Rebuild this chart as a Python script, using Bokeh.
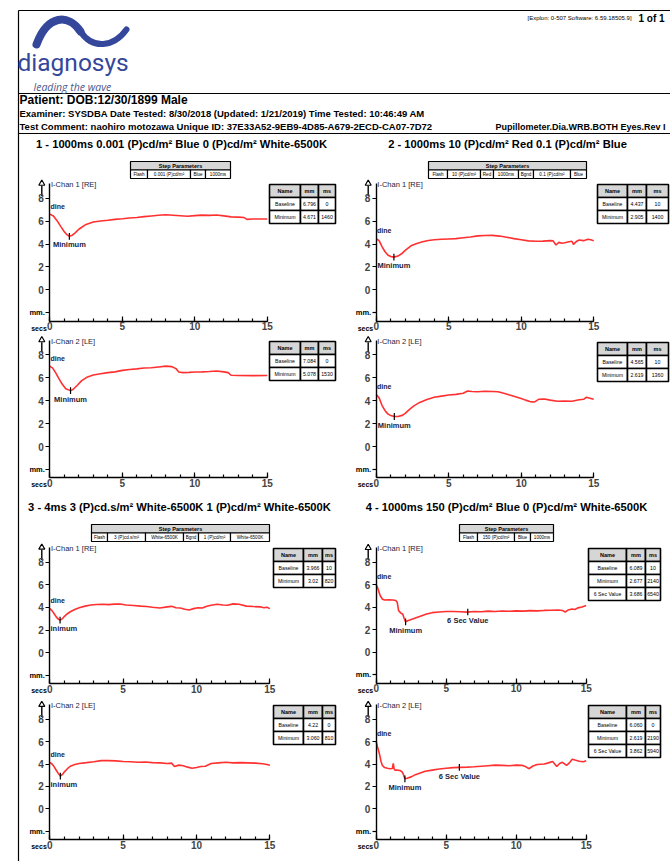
from bokeh.plotting import figure
from bokeh.models import Range1d, LinearAxis, FixedTicker
from bokeh.embed import file_html
from bokeh.resources import INLINE
from bokeh.core.properties import value

# ------------------------------------------------------------------ texts
LOGO_NAME = "diagnosys"
LOGO_TAG = "leading the wave"
VERSION_TEXT = "[Explon: 0-507 Software: 6.59.18505.9]"
PAGE_TEXT = "1 of 1"
PATIENT_LINE = "Patient: DOB:12/30/1899 Male"
EXAMINER_LINE = "Examiner: SYSDBA Date Tested: 8/30/2018 (Updated: 1/21/2019) Time Tested: 10:46:49 AM"
COMMENT_LINE = "Test Comment: naohiro motozawa  Unique ID: 37E33A52-9EB9-4D85-A679-2ECD-CA07-7D72"
PROTOCOL_LINE = "Pupillometer.Dia.WRB.BOTH Eyes.Rev I"

PANEL_TITLES = [
    "1 - 1000ms 0.001 (P)cd/m\u00b2 Blue 0 (P)cd/m\u00b2 White-6500K",
    "2 - 1000ms 10 (P)cd/m\u00b2 Red 0.1 (P)cd/m\u00b2 Blue",
    "3 - 4ms 3 (P)cd.s/m\u00b2 White-6500K 1 (P)cd/m\u00b2 White-6500K",
    "4 - 1000ms 150 (P)cd/m\u00b2 Blue 0 (P)cd/m\u00b2 White-6500K",
]
STEP_TITLE = "Step Parameters"
STEP_1 = ["Flash", "0.001 (P)cd/m\u00b2", "Blue", "1000ms"]
STEP_2 = ["Flash", "10 (P)cd/m\u00b2", "Red", "1000ms", "Bgnd", "0.1 (P)cd/m\u00b2", "Blue"]
STEP_3 = ["Flash", "3 (P)cd.s/m\u00b2", "White-6500K", "Bgnd", "1 (P)cd/m\u00b2", "White-6500K"]
STEP_4 = ["Flash", "150 (P)cd/m\u00b2", "Blue", "1000ms"]

CHANNELS = ["I-Chan 1 [RE]", "I-Chan 2 [LE]"]
X_TICKS = [0, 5, 10, 15]
X_MINOR = list(range(0, 16))
Y_TICKS = [0, 2, 4, 6, 8]
Y_UNIT_TICK = -2
Y_UNIT = "mm."
X_UNIT = "secs"
BASE_LABEL = "dine"

TABLE_HEAD = ["Name", "mm", "ms"]
TABLE_1_RE = [["Baseline", "6.796", "0"], ["Minimum", "4.671", "1460"]]
TABLE_1_LE = [["Baseline", "7.084", "0"], ["Minimum", "5.078", "1530"]]
TABLE_2_RE = [["Baseline", "4.437", "10"], ["Minimum", "2.905", "1400"]]
TABLE_2_LE = [["Baseline", "4.565", "10"], ["Minimum", "2.619", "1360"]]
TABLE_3_RE = [["Baseline", "3.966", "10"], ["Minimum", "3.02", "820"]]
TABLE_3_LE = [["Baseline", "4.22", "0"], ["Minimum", "3.060", "810"]]
TABLE_4_RE = [["Baseline", "6.089", "10"], ["Minimum", "2.677", "2140"], ["6 Sec Value", "3.686", "6540"]]
TABLE_4_LE = [["Baseline", "6.060", "0"], ["Minimum", "2.619", "2190"], ["6 Sec Value", "3.862", "5940"]]

# ------------------------------------------------------------------ traces (seconds, mm)
T_1_RE = [0, 0.25, 0.5, 0.75, 1.0, 1.2, 1.35, 1.55, 1.75, 2.0, 2.5, 3.0, 3.5, 4.0, 4.5, 5.0, 5.5, 6.0, 6.5,
          7.0, 7.5, 8.0, 8.5, 9.0, 9.5, 10.0, 10.5, 11.0, 11.5, 12.0, 12.5, 13.0, 13.4, 13.6, 14.0, 14.5, 15.0]
V_1_RE = [6.62, 6.45, 6.05, 5.55, 5.08, 4.8, 4.68, 4.78, 4.98, 5.3, 5.72, 5.93, 6.02, 6.08, 6.16, 6.21, 6.28,
          6.33, 6.4, 6.46, 6.52, 6.56, 6.52, 6.48, 6.43, 6.49, 6.53, 6.51, 6.54, 6.47, 6.38, 6.36, 6.32, 6.16,
          6.2, 6.19, 6.2]
T_1_LE = [0, 0.2, 0.4, 0.6, 0.85, 1.1, 1.43, 1.6, 1.9, 2.2, 2.6, 3.0, 3.5, 4.0, 4.5, 5.0, 5.5, 6.0, 6.5, 7.0,
          7.5, 8.0, 8.4, 8.7, 8.9, 9.2, 9.6, 10.0, 10.5, 11.0, 11.5, 12.0, 12.3, 12.5, 13.0, 14.0, 15.0]
V_1_LE = [7.02, 6.85, 6.45, 6.0, 5.45, 5.05, 4.88, 4.98, 5.35, 5.75, 6.08, 6.25, 6.36, 6.45, 6.52, 6.65, 6.72,
          6.78, 6.85, 6.88, 6.95, 7.02, 6.98, 6.8, 6.5, 6.45, 6.47, 6.5, 6.52, 6.55, 6.6, 6.52, 6.45, 6.22,
          6.2, 6.19, 6.2]
T_2_RE = [0, 0.2, 0.4, 0.6, 0.8, 1.0, 1.22, 1.5, 1.75, 2.0, 2.4, 2.8, 3.2, 3.6, 4.0, 4.5, 5.0, 5.5, 6.0, 6.5,
          7.0, 7.5, 8.0, 8.5, 9.0, 9.5, 10.0, 10.5, 11.0, 11.5, 12.0, 12.2, 12.4, 12.6, 12.8, 13.0, 13.3,
          13.5, 13.6, 13.8, 14.0, 14.3, 14.6, 14.8, 15.0]
V_2_RE = [4.48, 4.3, 3.78, 3.35, 3.05, 2.92, 2.86, 2.95, 3.15, 3.45, 3.85, 4.05, 4.2, 4.32, 4.38, 4.42, 4.45,
          4.48, 4.55, 4.62, 4.72, 4.75, 4.76, 4.7, 4.6, 4.48, 4.38, 4.28, 4.25, 4.26, 4.3, 4.28, 3.92, 4.15,
          4.08, 4.12, 4.2, 4.25, 3.98, 4.22, 4.35, 4.3, 4.42, 4.38, 4.3]
T_2_LE = [0, 0.2, 0.4, 0.6, 0.8, 1.0, 1.25, 1.5, 1.8, 2.0, 2.3, 2.6, 3.0, 3.5, 4.0, 4.5, 5.0, 5.5, 6.0, 6.3,
          6.6, 7.0, 7.5, 8.0, 8.4, 8.8, 9.2, 9.6, 10.0, 10.3, 10.6, 10.9, 11.2, 11.6, 12.0, 12.5, 13.0, 13.5,
          14.0, 14.3, 14.5, 14.8, 15.0]
V_2_LE = [4.55, 4.25, 3.6, 3.15, 2.85, 2.7, 2.62, 2.62, 2.72, 2.9, 3.25, 3.55, 3.85, 4.1, 4.3, 4.4, 4.5, 4.55,
          4.65, 4.85, 4.8, 4.78, 4.82, 4.8, 4.78, 4.65, 4.5, 4.35, 4.2, 4.05, 3.92, 3.88, 4.12, 4.15, 4.05,
          3.95, 3.98, 3.95, 4.08, 4.12, 4.3, 4.2, 4.12]
T_3_RE = [0, 0.15, 0.3, 0.45, 0.6, 0.7, 0.85, 1.0, 1.2, 1.4, 1.7, 2.0, 2.4, 2.8, 3.2, 3.6, 4.0, 4.4, 4.8, 5.2,
          5.7, 6.2, 6.6, 7.0, 7.5, 8.0, 8.3, 8.6, 8.9, 9.2, 9.5, 9.8, 10.1, 10.4, 10.7, 11.0, 11.4, 11.8, 12.1,
          12.5, 12.9, 13.4, 13.9, 14.4, 14.6, 14.8, 15.0]
V_3_RE = [3.9, 3.72, 3.45, 3.15, 2.95, 2.88, 3.0, 3.22, 3.45, 3.62, 3.82, 3.98, 4.12, 4.22, 4.26, 4.28, 4.25,
          4.3, 4.3, 4.22, 4.18, 4.12, 4.08, 4.02, 3.95, 4.05, 4.1, 3.98, 3.96, 3.85, 3.78, 3.9, 3.98, 3.95,
          4.1, 4.2, 4.28, 4.22, 4.2, 4.32, 4.28, 4.12, 4.08, 4.05, 3.98, 4.02, 3.9]
T_3_LE = [0, 0.15, 0.3, 0.45, 0.6, 0.72, 0.85, 1.0, 1.2, 1.4, 1.7, 2.0, 2.5, 3.0, 3.5, 4.0, 4.5, 5.0, 5.5, 6.0,
          6.5, 7.0, 7.5, 8.0, 8.3, 8.5, 8.8, 9.1, 9.4, 9.7, 10.0, 10.3, 10.6, 11.0, 11.5, 12.0, 12.5, 13.0,
          13.5, 14.0, 14.5, 14.8, 15.0]
V_3_LE = [4.15, 4.0, 3.75, 3.42, 3.12, 2.92, 3.05, 3.3, 3.58, 3.8, 3.95, 4.05, 4.12, 4.2, 4.3, 4.3, 4.28, 4.22,
          4.2, 4.15, 4.18, 4.12, 4.1, 4.05, 4.08, 3.78, 3.9, 3.85, 3.72, 3.62, 3.68, 3.78, 3.8, 4.05, 4.1,
          4.15, 4.1, 4.12, 4.1, 4.08, 4.02, 3.95, 3.88]
T_4_RE = [0, 0.1, 0.2, 0.3, 0.45, 0.6, 0.9, 1.2, 1.4, 1.5, 1.6, 1.75, 1.9, 2.0, 2.1, 2.25, 2.5, 2.8, 3.2, 3.6,
          4.0, 4.5, 5.0, 5.5, 6.0, 6.5, 7.0, 7.5, 8.0, 8.5, 9.0, 9.5, 10.0, 10.5, 11.0, 11.5, 12.0, 12.5, 13.0,
          13.3, 13.5, 13.7, 14.0, 14.2, 14.4, 14.7, 15.0]
V_4_RE = [6.0, 5.75, 5.35, 5.0, 4.72, 4.65, 4.66, 4.65, 4.6, 4.45, 3.7, 3.5, 3.38, 3.0, 2.7, 2.8, 2.92, 3.05,
          3.22, 3.4, 3.52, 3.58, 3.62, 3.63, 3.6, 3.57, 3.62, 3.6, 3.66, 3.63, 3.67, 3.64, 3.68, 3.66, 3.7,
          3.68, 3.72, 3.74, 3.76, 3.72, 3.58, 3.75, 3.85, 3.8, 3.95, 4.02, 4.15]
T_4_LE = [0, 0.12, 0.25, 0.35, 0.45, 0.6, 0.8, 1.0, 1.15, 1.22, 1.28, 1.35, 1.5, 1.7, 1.85, 1.95, 2.05, 2.2,
          2.5, 2.8, 3.1, 3.5, 4.0, 4.5, 5.0, 5.5, 5.95, 6.5, 7.0, 7.5, 8.0, 8.5, 9.0, 9.5, 10.0, 10.4, 10.7,
          10.9, 11.2, 11.5, 12.0, 12.3, 12.6, 12.9, 13.1, 13.3, 13.6, 13.8, 14.0, 14.2, 14.5, 14.8, 15.0]
V_4_LE = [6.0, 5.4, 4.8, 4.2, 3.85, 3.68, 3.62, 3.58, 3.6, 4.05, 3.55, 3.45, 3.45, 3.42, 3.3, 3.05, 2.68, 2.72,
          2.85, 3.05, 3.18, 3.35, 3.45, 3.55, 3.62, 3.68, 3.7, 3.72, 3.75, 3.8, 3.85, 3.9, 3.88, 3.85, 3.9,
          3.88, 3.75, 3.58, 3.82, 3.95, 4.0, 4.1, 4.22, 3.78, 4.05, 4.15, 3.88, 4.1, 4.42, 4.35, 4.25, 4.2, 4.3]

# marker positions (seconds, mm)
MIN_1_RE = (1.35, 4.68); MIN_1_LE = (1.43, 4.88)
MIN_2_RE = (1.22, 2.86); MIN_2_LE = (1.25, 2.62)
MIN_3_RE = (0.70, 2.88); MIN_3_LE = (0.72, 2.92)
MIN_4_RE = (2.10, 2.70); MIN_4_LE = (2.05, 2.68)
SIX_4_RE = (6.54, 3.58); SIX_4_LE = (5.94, 3.70)
MIN_LABELS = ["Minimum", "Minimum", "inimum", "Minimum"]
SIX_LABEL = "6 Sec Value"

# ------------------------------------------------------------------ figure (page coordinates)
W, H = 670, 861
FONT = value("Liberation Sans")
RED = "#ff1a1a"
INK = "#1c1c3a"

p = figure(width=W, height=H, x_range=Range1d(0, W), y_range=Range1d(H, 0),
           output_backend="svg", toolbar_location=None, x_axis_type=None, y_axis_type=None,
           min_border=0)
p.outline_line_color = None
p.background_fill_color = "white"
p.border_fill_color = "white"


def txt(x, y, s, size, style="normal", align="left", color="black", font=FONT, **kw):
    p.text(x=[x], y=[y], text=[s], text_font=font, text_font_size=size, text_font_style=style,
           text_align=align, text_baseline="middle", text_color=color, **kw)


# page frame lines
p.segment(x0=[18, 18, 18, 18], y0=[10, 10, 93, 133], x1=[18, 670, 670, 670], y1=[861, 10, 93, 133],
          line_color="black", line_width=1.2)

# logo
LOGO_BLUE = "#34479b"
p.bezier(x0=[36], y0=[44], x1=[80], y1=[31], cx0=[47], cy0=[14], cx1=[68], cy1=[13],
         line_color=LOGO_BLUE, line_width=8, line_cap="round")
p.bezier(x0=[80], y0=[31], x1=[126], y1=[29], cx0=[92], cy0=[49], cx1=[113], cy1=[47],
         line_color=LOGO_BLUE, line_width=6, line_cap="round")
txt(17, 62, LOGO_NAME, "24.5px", color=LOGO_BLUE, font=value("Roboto"))
txt(33, 86, LOGO_TAG, "10.5px", style="italic", color="#4d5a8c", font=value("Open Sans"))

txt(527, 17, VERSION_TEXT, "6px")
txt(638, 18, PAGE_TEXT, "10px", style="bold")
txt(19, 99, PATIENT_LINE, "12px", style="bold")
txt(19, 113, EXAMINER_LINE, "9.5px", style="bold")
txt(19, 126, COMMENT_LINE, "9.5px", style="bold")
txt(495, 126, PROTOCOL_LINE, "9px", style="bold")

# panel titles
for (cx, cy), title in zip([(181, 143), (507, 143), (179, 506), (506, 506)], PANEL_TITLES):
    txt(cx, cy, title, "11.2px", style="bold", align="center")


def step_box(edges, ytop, cells, rh=8.5):
    p.quad(left=[edges[0]], right=[edges[-1]], top=[ytop], bottom=[ytop + rh],
           fill_color="#d6d6d6", line_color="black", line_width=1.2)
    p.quad(left=edges[:-1], right=edges[1:], top=[ytop + rh] * (len(edges) - 1),
           bottom=[ytop + 2 * rh] * (len(edges) - 1), fill_color="white", line_color="black", line_width=1.2)
    txt((edges[0] + edges[-1]) / 2, ytop + rh / 2, STEP_TITLE, "5.5px", style="bold", align="center")
    p.text(x=[(a + b) / 2 for a, b in zip(edges[:-1], edges[1:])], y=[ytop + 1.5 * rh] * len(cells),
           text=cells, text_font=FONT, text_font_size="4.6px", text_align="center",
           text_baseline="middle", text_color="black")


step_box([130, 147, 190, 205, 230], 161, STEP_1)
step_box([428, 447, 480, 493, 518, 533, 570, 586], 161, STEP_2)
step_box([91, 107, 145, 183, 198, 230, 269], 524, STEP_3)
step_box([459, 477, 514, 530, 553], 524, STEP_4)


def data_table(edges, ytop, rows, rh=13):
    allrows = [TABLE_HEAD] + rows
    L, R, T, B, F = [], [], [], [], []
    for r in range(len(allrows)):
        for c in range(3):
            L.append(edges[c]); R.append(edges[c + 1])
            T.append(ytop + r * rh); B.append(ytop + (r + 1) * rh)
            F.append("#d6d6d6" if r == 0 else "white")
    p.quad(left=L, right=R, top=T, bottom=B, fill_color=F, line_color="black", line_width=1.6)
    cx = [(edges[c] + edges[c + 1]) / 2 for c in range(3)]
    p.text(x=cx, y=[ytop + rh / 2] * 3, text=TABLE_HEAD, text_font=FONT, text_font_size="5.5px",
           text_font_style="bold", text_align="center", text_baseline="middle", text_color="black")
    xs, ys, ss = [], [], []
    for r, row in enumerate(rows):
        for c, s in enumerate(row):
            xs.append(cx[c]); ys.append(ytop + (r + 1.5) * rh); ss.append(s)
    p.text(x=xs, y=ys, text=ss, text_font=FONT, text_font_size="5.2px", text_align="center",
           text_baseline="middle", text_color="black")


# ------------------------------------------------------------------ sub plots
Y_LO, Y_HI = -2.75, 9.3
SUBPLOTS = [
    # key, X0, Y0, sx, sy, t, v, channel, min, min label, six-sec, table rows, table edges, table top
    ("p1re", 49.3, 289.3, 14.5, 11.43, T_1_RE, V_1_RE, 0, MIN_1_RE, MIN_LABELS[0], None, TABLE_1_RE, [269, 300, 318, 335], 184),
    ("p1le", 49.3, 446.0, 14.5, 11.45, T_1_LE, V_1_LE, 1, MIN_1_LE, MIN_LABELS[0], None, TABLE_1_LE, [269, 300, 318, 335], 341),
    ("p2re", 375.7, 289.3, 14.5, 11.43, T_2_RE, V_2_RE, 0, MIN_2_RE, MIN_LABELS[1], None, TABLE_2_RE, [597, 627, 646, 668], 184),
    ("p2le", 375.7, 446.0, 14.5, 11.45, T_2_LE, V_2_LE, 1, MIN_2_LE, MIN_LABELS[1], None, TABLE_2_LE, [597, 627, 646, 668], 342),
    ("p3re", 49.3, 652.3, 14.67, 11.33, T_3_RE, V_3_RE, 0, MIN_3_RE, MIN_LABELS[2], None, TABLE_3_RE, [273, 303, 322, 335], 548),
    ("p3le", 49.3, 808.3, 14.67, 11.2, T_3_LE, V_3_LE, 1, MIN_3_LE, MIN_LABELS[2], None, TABLE_3_LE, [273, 303, 322, 335], 705),
    ("p4re", 375.7, 651.7, 14.0, 11.23, T_4_RE, V_4_RE, 0, MIN_4_RE, MIN_LABELS[3], SIX_4_RE, TABLE_4_RE, [588, 626, 645, 660], 548),
    ("p4le", 375.7, 808.3, 14.0, 11.2, T_4_LE, V_4_LE, 1, MIN_4_LE, MIN_LABELS[3], SIX_4_LE, TABLE_4_LE, [588, 626, 645, 660], 705),
]

xr, yr = {}, {}
for key, X0, Y0, sx, sy, *_ in SUBPLOTS:
    xr[key] = Range1d((0 - X0) / sx, (W - X0) / sx)
    yr[key] = Range1d((Y0 - H) / sy, (Y0 - 0) / sy)
p.extra_x_ranges = xr
p.extra_y_ranges = yr

for key, X0, Y0, sx, sy, t, v, ch, mn, mlabel, six, trows, tedges, ttop in SUBPLOTS:
    kw = dict(x_range_name=key, y_range_name=key)
    yax = LinearAxis(fixed_location=0, bounds=(Y_LO, Y_HI),
                     ticker=FixedTicker(ticks=Y_TICKS, minor_ticks=[Y_UNIT_TICK]), **kw)
    yax.axis_line_width = 1.4
    yax.major_tick_out = 4; yax.major_tick_in = 0
    yax.minor_tick_out = 4; yax.minor_tick_in = 0
    yax.major_tick_line_width = 1.2; yax.minor_tick_line_width = 1.2
    yax.major_label_text_font = "Liberation Sans"
    yax.major_label_text_font_size = "10px"
    yax.major_label_text_font_style = "bold"
    yax.major_label_standoff = 2
    p.add_layout(yax, "left")

    xax = LinearAxis(fixed_location=Y_LO, bounds=(0, 15),
                     ticker=FixedTicker(ticks=X_TICKS, minor_ticks=X_MINOR), **kw)
    xax.axis_line_width = 1.4
    xax.major_tick_in = 5; xax.major_tick_out = 0
    xax.minor_tick_in = 3; xax.minor_tick_out = 0
    xax.major_tick_line_width = 1.2; xax.minor_tick_line_width = 1.2
    xax.major_label_text_font = "Liberation Sans"
    xax.major_label_text_font_size = "10px"
    xax.major_label_text_font_style = "bold"
    xax.major_label_standoff = 1
    p.add_layout(xax, "below")

    # y-axis arrow symbol (drawn just left of the axis, as in the report)
    ax_off = -8.0 / sx
    p.segment(x0=[ax_off], y0=[8.2], x1=[ax_off], y1=[Y_HI - 0.2], line_color="black", line_width=1.4, **kw)
    p.scatter(x=[ax_off], y=[Y_HI], marker="triangle", size=6, fill_color="white", line_color="black",
              line_width=1.2, **kw)
    p.text(x=[0], y=[Y_UNIT_TICK], text=[Y_UNIT], text_font=FONT, text_font_size="7.5px",
           text_font_style="bold", text_align="right", text_baseline="middle", x_offset=-5, **kw)
    p.text(x=[0], y=[Y_LO], text=[X_UNIT], text_font=FONT, text_font_size="7px",
           text_font_style="bold", text_align="right", text_baseline="middle", x_offset=-3, y_offset=7, **kw)
    p.text(x=[0.08], y=[Y_HI - 0.1], text=[CHANNELS[ch]], text_font=FONT, text_font_size="7.5px",
           text_align="left", text_baseline="middle", text_color=INK, **kw)

    # trace
    p.line(t, v, line_color=RED, line_width=1.6, line_alpha=0.9, **kw)

    # markers
    p.text(x=[0.05], y=[v[0] + 0.7], text=[BASE_LABEL], text_font=FONT, text_font_size="7px",
           text_font_style="bold", text_align="left", text_baseline="middle", text_color=INK, **kw)
    p.segment(x0=[mn[0]], y0=[mn[1] - 0.3], x1=[mn[0]], y1=[mn[1] + 0.3], line_color="black",
              line_width=1.2, **kw)
    if mlabel == "Minimum":
        p.text(x=[mn[0]], y=[mn[1] - 0.75], text=[mlabel], text_font=FONT, text_font_size="7.5px",
               text_font_style="bold", text_align="center", text_baseline="middle", text_color=INK, **kw)
    else:
        p.text(x=[0.05], y=[mn[1] - 0.75], text=[mlabel], text_font=FONT, text_font_size="7.5px",
               text_font_style="bold", text_align="left", text_baseline="middle", text_color=INK, **kw)
    if six is not None:
        p.segment(x0=[six[0]], y0=[six[1] - 0.3], x1=[six[0]], y1=[six[1] + 0.3], line_color="black",
                  line_width=1.2, **kw)
        p.text(x=[six[0]], y=[six[1] - 0.8], text=[SIX_LABEL], text_font=FONT, text_font_size="7.5px",
               text_font_style="bold", text_align="center", text_baseline="middle", text_color=INK, **kw)

    data_table(tedges, ttop, trows)

open("out.html", "w").write(file_html(p, INLINE))
